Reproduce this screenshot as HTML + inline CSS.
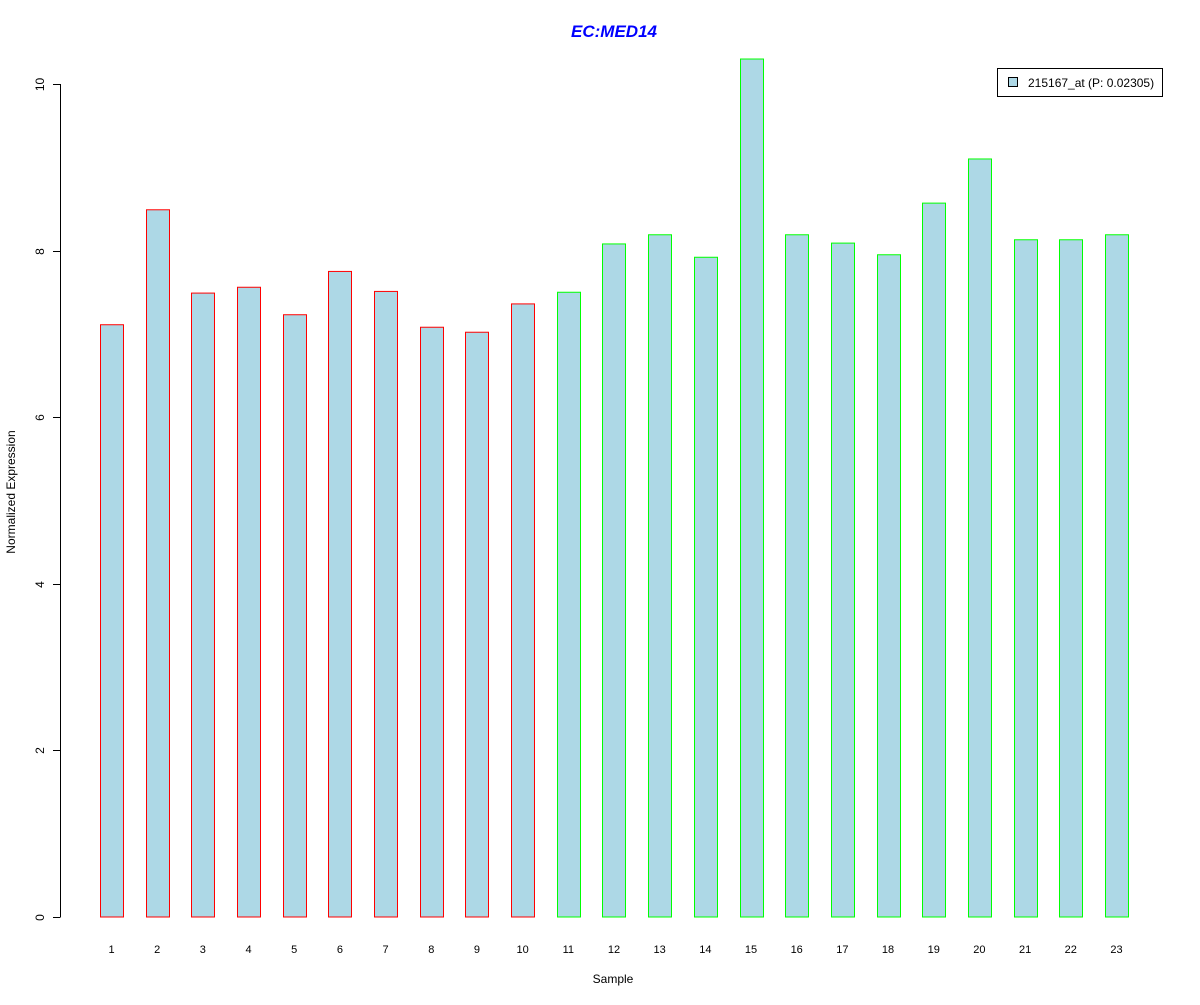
<!DOCTYPE html>
<html><head><meta charset="utf-8"><style>
body{margin:0;background:#fff;}
svg text{font-family:"Liberation Sans",Arial,sans-serif;}
</style></head><body>
<svg id="chart" width="1200" height="1000" xmlns="http://www.w3.org/2000/svg">
<rect width="1200" height="1000" fill="#fff"/>
<text x="614" y="37" text-anchor="middle" font-size="17" font-weight="bold" font-style="italic" fill="#0000ff">EC:MED14</text>
<text x="613" y="983" text-anchor="middle" font-size="12">Sample</text>
<text transform="translate(15,492) rotate(-90)" text-anchor="middle" font-size="12">Normalized Expression</text>
<g id="yaxis"></g>
<g id="bars"></g>
<g id="xlabels"></g>
<g>
<rect x="997.5" y="68.5" width="165" height="28" fill="#fff" stroke="#000"/>
<rect x="1008.5" y="77.5" width="9" height="9" fill="#add8e6" stroke="#000"/>
<text x="1028" y="87" font-size="12">215167_at (P: 0.02305)</text>
</g>
</svg>
<script>
const categories=["1","2","3","4","5","6","7","8","9","10","11","12","13","14","15","16","17","18","19","20","21","22","23"];
const values=[7.11,8.49,7.49,7.56,7.23,7.75,7.51,7.08,7.02,7.36,7.50,8.08,8.19,7.92,10.30,8.19,8.09,7.95,8.57,9.10,8.13,8.13,8.19];
const groups=["red","red","red","red","red","red","red","red","red","red","green","green","green","green","green","green","green","green","green","green","green","green","green"];
const yTicks=[0,2,4,6,8,10];
const NS="http://www.w3.org/2000/svg";
function yScale(v){return 917-v*83.3;}
function xScale(i){return 100+i*45.68;}
const colorMap={red:"#ff0000",green:"#00ff00"};
const ya=document.getElementById('yaxis');
let l=document.createElementNS(NS,'line');


l.setAttribute('x1',60.5);l.setAttribute('x2',60.5);l.setAttribute('y1',yScale(0));l.setAttribute('y2',yScale(10));l.setAttribute('stroke','#000');
ya.appendChild(l);
yTicks.forEach(t=>{
 const y=Math.round(yScale(t))+0.5;
 const tk=document.createElementNS(NS,'line');
 
 
 tk.setAttribute('x1',53);tk.setAttribute('x2',60.5);tk.setAttribute('y1',y);tk.setAttribute('y2',y);tk.setAttribute('stroke','#000');
 ya.appendChild(tk);
 const tx=document.createElementNS(NS,'text');
 
 
 tx.setAttribute('transform','translate(44,'+y+') rotate(-90)');
 tx.setAttribute('text-anchor','middle');tx.setAttribute('font-size','12');
 tx.textContent=t;ya.appendChild(tx);
});
const bg=document.getElementById('bars'),xl=document.getElementById('xlabels');
values.forEach((v,i)=>{
 const x=xScale(i);
 const r=document.createElementNS(NS,'rect');
 
 
 r.setAttribute('x',Math.round(x)+0.5);r.setAttribute('y',yScale(v));
 r.setAttribute('width',23);r.setAttribute('height',yScale(0)-yScale(v));
 r.setAttribute('fill','#add8e6');r.setAttribute('stroke',colorMap[groups[i]]);
 bg.appendChild(r);
 const t=document.createElementNS(NS,'text');
 
 
 t.setAttribute('x',x+11.5);t.setAttribute('y',953);t.setAttribute('text-anchor','middle');t.setAttribute('font-size','11');
 t.textContent=categories[i];xl.appendChild(t);
});
</script>
</body></html>
